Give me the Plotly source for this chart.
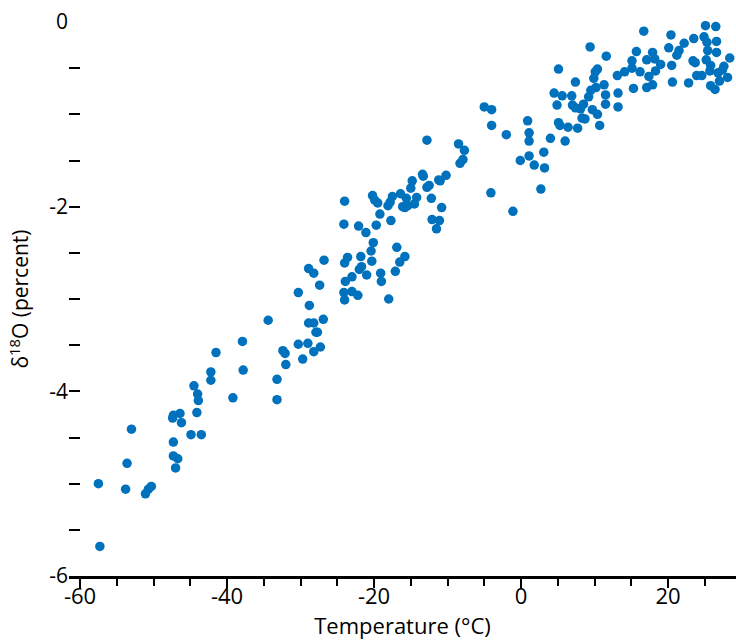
import plotly.graph_objects as go

# temperature (deg C) and d18O (percent)
temp = [
    -37.9, -41.5, -37.8, -42.2, -42.2, -44.5, -44.0, -43.9, -39.2, -44.1,
    -47.3, -46.4, -47.4, -46.2, -53.0, -44.9, -43.5, -47.3, -47.3, -46.7,
    -47.0, -53.6, -57.5, -53.8, -50.3, -50.7, -51.1, -57.3,
    -26.8, -28.9, -28.2, -27.4, -30.3, -28.8, -34.4, -28.9, -28.2, -26.9,
    -27.9, -27.7, -30.3, -29.0, -27.3, -28.2, -32.4, -32.1, -29.7, -32.0,
    -33.2, -33.2,
    -12.8, -8.5, -8.3, -13.4, -13.3, -10.2, -11.2, -11.0, -14.8, -15.0,
    -12.5, -12.8, -16.4, -20.2, -19.9, -19.5, -17.5, -17.8, -18.1, -15.6,
    -14.2, -14.5, -16.1, -15.8, -15.4, -12.2, -10.8, -24.0, -19.2, -17.7,
    -12.1, -11.1, -11.5, -24.1, -22.1, -21.1, -19.7, -20.1, -16.9, -20.4,
    -15.8, -16.5, -23.6, -21.8, -24.0, -20.3, -21.7, -22.0, -21.0, -17.1,
    -19.1, -19.0, -23.0, -23.9, -24.1, -23.0, -22.2, -24.0, -18.0,
    5.1, 7.4, 4.5, 5.6, 6.9, 4.9, 7.0, 7.4, -5.0, -4.0,
    -4.0, 0.9, 1.1, 1.1, -2.0, 5.1, 5.3, 6.4, 7.7, 4.0,
    6.0, -7.7, -7.9, 1.1, -0.1, 1.8, 3.1, 3.2, -4.1, 2.7,
    -1.1,
    16.7, 9.4, 11.6, 15.7, 17.9, 15.1, 17.1, 18.2, 14.1, 15.1,
    16.2, 18.3, 13.1, 17.4, 10.4, 10.1, 9.9, 11.3, 10.2, 9.5,
    15.3, 17.1, 17.9, 13.2, 11.5, 9.2, 11.5, 13.2, 8.5, 8.1,
    9.7, 10.4, 8.3, 8.7, 10.7,
    25.1, 26.5, 20.4, 23.5, 24.9, 26.6, 25.3, 20.1, 22.2, 21.5,
    21.2, 25.4, 26.6, 25.2, 28.4, 19.0, 20.5, 23.4, 23.7, 25.8,
    27.6, 27.4, 26.8, 25.7, 23.9, 24.6, 28.1, 27.0, 20.6, 22.8,
    25.8, 26.4,
]
d18o = [
    -3.46, -3.58, -3.77, -3.79, -3.88, -3.94, -4.03, -4.10, -4.07, -4.23,
    -4.26, -4.24, -4.29, -4.34, -4.41, -4.47, -4.47, -4.55, -4.70, -4.73,
    -4.83, -4.78, -5.00, -5.06, -5.03, -5.06, -5.11, -5.68,
    -2.58, -2.67, -2.72, -2.85, -2.93, -3.07, -3.23, -3.26, -3.26, -3.22,
    -3.36, -3.36, -3.49, -3.48, -3.52, -3.57, -3.56, -3.59, -3.65, -3.71,
    -3.87, -4.09,
    -1.28, -1.32, -1.53, -1.65, -1.67, -1.66, -1.71, -1.72, -1.72, -1.80,
    -1.77, -1.79, -1.86, -1.88, -1.93, -1.96, -1.89, -1.95, -1.99, -1.91,
    -1.90, -1.97, -2.00, -2.01, -1.99, -1.91, -2.01, -1.94, -2.08, -2.15,
    -2.14, -2.15, -2.24, -2.19, -2.21, -2.28, -2.20, -2.39, -2.44, -2.48,
    -2.54, -2.60, -2.55, -2.54, -2.61, -2.59, -2.65, -2.68, -2.74, -2.70,
    -2.72, -2.81, -2.76, -2.81, -2.93, -2.92, -2.96, -3.01, -3.00,
    -0.51, -0.65, -0.77, -0.80, -0.80, -0.90, -0.90, -0.93, -0.92, -0.95,
    -1.12, -1.07, -1.20, -1.29, -1.22, -1.09, -1.12, -1.14, -1.15, -1.26,
    -1.29, -1.39, -1.49, -1.45, -1.50, -1.55, -1.41, -1.58, -1.85, -1.81,
    -2.05,
    -0.10, -0.27, -0.37, -0.32, -0.33, -0.42, -0.41, -0.40, -0.54, -0.50,
    -0.54, -0.53, -0.58, -0.59, -0.51, -0.54, -0.61, -0.68, -0.71, -0.74,
    -0.72, -0.71, -0.68, -0.77, -0.79, -0.81, -0.89, -0.92, -0.89, -0.94,
    -0.95, -1.00, -1.04, -1.05, -1.12,
    -0.04, -0.05, -0.14, -0.18, -0.16, -0.21, -0.22, -0.28, -0.23, -0.31,
    -0.36, -0.31, -0.33, -0.41, -0.39, -0.46, -0.47, -0.42, -0.44, -0.47,
    -0.48, -0.52, -0.55, -0.53, -0.58, -0.58, -0.60, -0.64, -0.65, -0.66,
    -0.69, -0.73,
]

x_ticks = [-60, -40, -20, 0, 20]
x_labels = ["-60", "-40", "-20", "0", "20"]
y_ticks = [-6, -5.5, -5, -4.5, -4, -3.5, -3, -2.5, -2, -1.5, -1, -0.5, 0]
y_labels = ["-6", "", "", "", "-4", "", "", "", "-2", "", "", "", "0"]

fig = go.Figure()
fig.add_trace(go.Scatter(x=temp, y=d18o, mode='markers',
                         marker=dict(color='#0071bc', size=9.5),
                         cliponaxis=False, hoverinfo='x+y'))

fig.update_layout(width=736, height=641,
                  margin=dict(l=69, r=0, t=22, b=65),
                  plot_bgcolor='white', paper_bgcolor='white',
                  showlegend=False,
                  font=dict(family='Open Sans', size=21, color='black'))

fig.update_xaxes(range=[-61.5, 29.25], showgrid=False, zeroline=False,
                 showline=True, linecolor='black', linewidth=3,
                 tickmode='array', tickvals=x_ticks, ticktext=x_labels,
                 ticks='outside', ticklen=9, tickwidth=2, tickcolor='black',
                 minor=dict(dtick=5, tick0=0, ticks='outside', ticklen=7,
                            tickwidth=2, tickcolor='black'),
                 tickfont=dict(size=22), ticklabelstandoff=-10,
                 title=dict(text='Temperature (°C)', font=dict(size=22), standoff=5),
                 automargin=False)

fig.update_yaxes(range=[-6, 0], showgrid=False, zeroline=False, showline=False,
                 tickmode='array', tickvals=y_ticks, ticktext=y_labels,
                 ticks='inside', ticklen=11, tickwidth=2, tickcolor='black',
                 tickfont=dict(size=21),
                 title=dict(text='δ<sup>18</sup>O (percent)', font=dict(size=21), standoff=14),
                 automargin=False)

# page has a default 8px body margin; drop it so the figure sits at 0,0
fig.write_html("out.html", config={'displayModeBar': False},
               post_script="document.body.style.margin='0';")
